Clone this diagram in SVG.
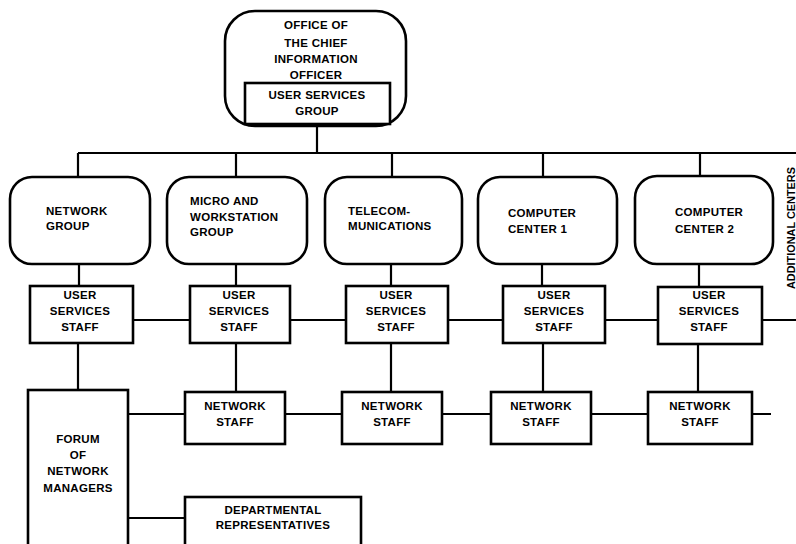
<svg xmlns="http://www.w3.org/2000/svg" width="796" height="544" viewBox="0 0 796 544">
<style>
.box{fill:#fff;stroke:#000;stroke-width:2.6}
.ln{fill:none;stroke:#000;stroke-width:2.2}
text{font-family:"Liberation Sans",Arial,sans-serif;font-weight:bold;font-size:11.5px;letter-spacing:0.3px;fill:#000}
.c{text-anchor:middle}
</style>
<rect width="796" height="544" fill="#fff"/>
<g id="connectors" class="ln">
<path d="M317 126V153M78 153H796M78 153V178M236 153V178M392 153V178M543 153V178M700 153V176"/>
<path d="M79 264V286M236 264V286M391 264V286M542 264V286M699 264V287"/>
<path d="M133 320H190M290 320H346M448 320H503M605 320H658M762 320H796"/>
<path d="M78 343V390M236 343V392M391 343V392M543 343V392M698 344V392"/>
<path d="M128 414H185M285 414H342M442 414H491M591 414H648M752 414H771"/>
<path d="M128 518H185"/>
</g>
<g id="cio">
<rect class="box" x="225" y="11" width="181" height="115" rx="30"/>
<text class="c" x="316" y="29">OFFICE OF</text>
<text class="c" x="316" y="47">THE CHIEF</text>
<text class="c" x="316" y="63">INFORMATION</text>
<text class="c" x="316" y="79">OFFICER</text>
</g>
<g id="usg">
<rect class="box" x="245" y="83" width="145" height="41"/>
<text class="c" x="317" y="99">USER SERVICES</text>
<text class="c" x="317" y="115">GROUP</text>
</g>
<g id="network-group">
<rect class="box" x="10" y="177" width="140" height="87" rx="22"/>
<text x="46" y="215">NETWORK</text>
<text x="46" y="230">GROUP</text>
</g>
<g id="micro">
<rect class="box" x="167" y="177" width="140" height="87" rx="22"/>
<text x="190" y="205">MICRO AND</text>
<text x="190" y="221">WORKSTATION</text>
<text x="190" y="236">GROUP</text>
</g>
<g id="telecom">
<rect class="box" x="325" y="177" width="137" height="87" rx="22"/>
<text x="348" y="215">TELECOM-</text>
<text x="348" y="230">MUNICATIONS</text>
</g>
<g id="cc1">
<rect class="box" x="478" y="177" width="139" height="87" rx="22"/>
<text x="508" y="217">COMPUTER</text>
<text x="508" y="233">CENTER 1</text>
</g>
<g id="cc2">
<rect class="box" x="635" y="176" width="138" height="88" rx="22"/>
<text x="675" y="216">COMPUTER</text>
<text x="675" y="233">CENTER 2</text>
</g>
<text x="795" y="289" transform="rotate(-90 795 289)" style="font-size:11px;letter-spacing:0" textLength="122" lengthAdjust="spacingAndGlyphs">ADDITIONAL CENTERS</text>
<g id="uss1">
<rect class="box" x="30" y="286" width="103" height="57"/>
<text class="c" x="80" y="299">USER</text><text class="c" x="80" y="315">SERVICES</text><text class="c" x="80" y="331">STAFF</text>
</g>
<g id="uss2">
<rect class="box" x="190" y="286" width="100" height="57"/>
<text class="c" x="239" y="299">USER</text><text class="c" x="239" y="315">SERVICES</text><text class="c" x="239" y="331">STAFF</text>
</g>
<g id="uss3">
<rect class="box" x="346" y="286" width="102" height="57"/>
<text class="c" x="396" y="299">USER</text><text class="c" x="396" y="315">SERVICES</text><text class="c" x="396" y="331">STAFF</text>
</g>
<g id="uss4">
<rect class="box" x="503" y="286" width="102" height="57"/>
<text class="c" x="554" y="299">USER</text><text class="c" x="554" y="315">SERVICES</text><text class="c" x="554" y="331">STAFF</text>
</g>
<g id="uss5">
<rect class="box" x="658" y="287" width="104" height="57"/>
<text class="c" x="709" y="299">USER</text><text class="c" x="709" y="315">SERVICES</text><text class="c" x="709" y="331">STAFF</text>
</g>
<g id="forum">
<rect class="box" x="28" y="390" width="100" height="160"/>
<text class="c" x="78" y="443">FORUM</text><text class="c" x="78" y="459">OF</text><text class="c" x="78" y="475">NETWORK</text><text class="c" x="78" y="492">MANAGERS</text>
</g>
<g id="ns1">
<rect class="box" x="185" y="392" width="100" height="52"/>
<text class="c" x="235" y="410">NETWORK</text><text class="c" x="235" y="426">STAFF</text>
</g>
<g id="ns2">
<rect class="box" x="342" y="392" width="100" height="52"/>
<text class="c" x="392" y="410">NETWORK</text><text class="c" x="392" y="426">STAFF</text>
</g>
<g id="ns3">
<rect class="box" x="491" y="392" width="100" height="52"/>
<text class="c" x="541" y="410">NETWORK</text><text class="c" x="541" y="426">STAFF</text>
</g>
<g id="ns4">
<rect class="box" x="648" y="392" width="104" height="52"/>
<text class="c" x="700" y="410">NETWORK</text><text class="c" x="700" y="426">STAFF</text>
</g>
<g id="dept">
<rect class="box" x="185" y="497" width="176" height="55"/>
<text class="c" x="273" y="514">DEPARTMENTAL</text><text class="c" x="273" y="529">REPRESENTATIVES</text>
</g>
</svg>
